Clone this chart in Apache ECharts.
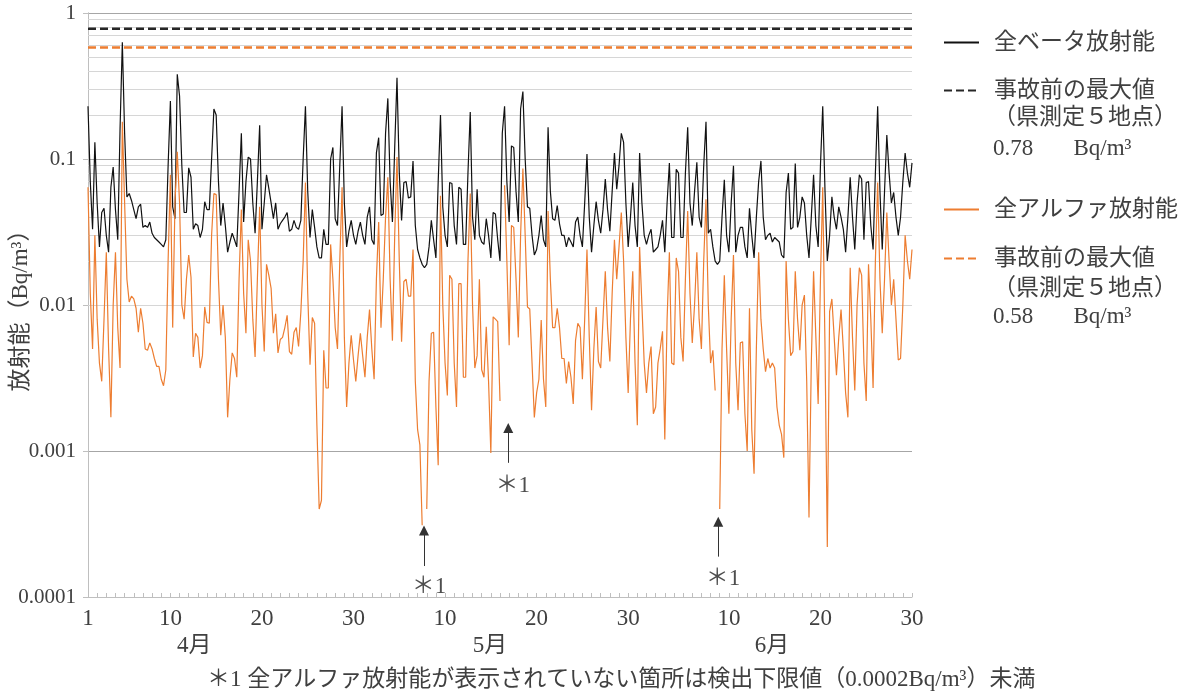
<!DOCTYPE html>
<html><head><meta charset="utf-8">
<script src="https://cdn.jsdelivr.net/npm/echarts@6.0.0/dist/echarts.min.js"></script>
<style>html,body{margin:0;padding:0;background:#fff}#c{width:1185px;height:698px}</style>
</head><body><div id="c"></div><script>
// ---- data (4 samples per day, day index 0 = Apr 1) ----
const PER_DAY = 4;
const betaApr = [0.23,0.07,0.033,0.13,0.05,0.025,0.043,0.046,0.03,0.023,
0.064,0.088,0.045,0.028,0.16,0.63,0.15,0.055,0.058,0.052,
0.045,0.039,0.047,0.049,0.034,0.035,0.034,0.037,0.031,0.029,
0.028,0.027,0.026,0.025,0.028,0.09,0.25,0.047,0.039,0.38,
0.27,0.09,0.043,0.043,0.087,0.075,0.033,0.036,0.035,0.029,
0.033,0.051,0.045,0.045,0.1,0.22,0.2,0.07,0.035,0.05,
0.035,0.023,0.027,0.031,0.028,0.025,0.06,0.15,0.037,0.07,
0.103,0.1,0.05,0.031,0.07,0.17,0.033,0.05,0.078,0.063,
0.05,0.039,0.05,0.033,0.036,0.038,0.04,0.043,0.032,0.033,
0.038,0.034,0.033,0.038,0.1,0.23,0.06,0.029,0.045,0.034,
0.025,0.021,0.021,0.033,0.026,0.026,0.1,0.12,0.039,0.035,
0.09,0.23,0.05,0.025,0.032,0.038,0.03,0.026,0.032,0.037];
const betaMay = [0.03,0.026,0.04,0.047,0.028,0.026,0.11,0.14,0.041,0.042,
0.15,0.26,0.07,0.037,0.12,0.36,0.08,0.038,0.069,0.07,
0.054,0.055,0.097,0.035,0.024,0.021,0.019,0.018,0.019,0.025,
0.038,0.028,0.021,0.07,0.2,0.047,0.03,0.025,0.069,0.068,
0.035,0.026,0.064,0.062,0.026,0.026,0.08,0.21,0.04,0.028,
0.062,0.03,0.027,0.026,0.039,0.03,0.021,0.043,0.042,0.028,
0.02,0.15,0.23,0.07,0.037,0.123,0.12,0.06,0.037,0.22,
0.29,0.1,0.047,0.046,0.03,0.022,0.024,0.03,0.041,0.028,
0.025,0.165,0.06,0.039,0.038,0.048,0.036,0.03,0.03,0.025,
0.029,0.027,0.025,0.037,0.04,0.03,0.025,0.05,0.108,0.04,
0.023,0.035,0.051,0.038,0.031,0.045,0.073,0.045,0.032,0.06,
0.11,0.062,0.09,0.15,0.13,0.05,0.025,0.04,0.069,0.035,
0.025,0.11,0.05,0.03];
const betaJun = [0.026,0.03,0.033,0.023,0.024,0.025,
0.03,0.038,0.023,0.05,0.094,0.029,0.029,0.085,0.08,0.029,
0.029,0.08,0.165,0.05,0.035,0.06,0.095,0.04,0.034,0.09,
0.18,0.031,0.033,0.025,0.02,0.019,0.02,0.04,0.072,0.03,
0.023,0.05,0.09,0.023,0.03,0.034,0.034,0.025,0.021,0.046,
0.03,0.021,0.04,0.07,0.097,0.04,0.028,0.03,0.031,0.027,
0.029,0.028,0.027,0.022,0.021,0.059,0.08,0.033,0.034,0.093,
0.034,0.04,0.055,0.05,0.03,0.021,0.04,0.078,0.035,0.025,
0.09,0.23,0.06,0.02,0.03,0.055,0.04,0.033,0.047,0.04,
0.033,0.023,0.04,0.075,0.04,0.024,0.05,0.078,0.073,0.028,
0.069,0.07,0.035,0.024,0.08,0.23,0.06,0.024,0.06,0.146,
0.08,0.05,0.059,0.04,0.03,0.04,0.07,0.11,0.08,0.064,0.094];
const alphaApr = [0.064,0.012,0.005,0.03,0.008,0.004,0.003,0.008,0.023,0.005,
0.0017,0.01,0.023,0.007,0.0037,0.18,0.05,0.015,0.0105,0.0115,
0.011,0.0095,0.0065,0.0095,0.0075,0.005,0.0049,0.0055,0.005,0.0043,
0.0038,0.0038,0.0031,0.0028,0.0036,0.02,0.078,0.007,0.05,0.112,
0.05,0.01,0.008,0.015,0.022,0.0155,0.0044,0.0064,0.006,0.0037,
0.0045,0.0097,0.0076,0.0075,0.03,0.058,0.057,0.015,0.0062,0.01,
0.006,0.0017,0.0031,0.0047,0.0043,0.0032,0.015,0.045,0.012,0.0064,
0.028,0.02,0.008,0.0044,0.015,0.047,0.01,0.0048,0.019,0.016,
0.013,0.0064,0.0087,0.0047,0.0058,0.006,0.007,0.0085,0.0048,0.0046,
0.0065,0.007,0.0052,0.009,0.02,0.069,0.012,0.0039,0.0082,0.0075,
0.0015,0.0004,0.00046,0.0049,0.0027,0.0027,0.026,0.015,0.007,0.005,
0.02,0.064,0.006,0.002,0.004,0.0062,0.0042,0.003,0.0045,0.0064];
const alphaMay = [0.0045,0.0032,0.006,0.0093,0.005,0.0031,0.015,0.037,0.007,0.015,
0.04,0.075,0.015,0.0057,0.03,0.103,0.02,0.0056,0.0145,0.015,
0.0115,0.0115,0.024,0.003,0.0014,0.0011,0.00031,null,0.0004,0.003,
0.0064,0.0065,0.002,0.0008,0.056,0.01,0.004,0.0024,0.016,0.015,
0.004,0.002,0.014,0.014,0.0032,0.0032,0.02,0.058,0.01,0.0037,
0.0045,0.015,0.0036,0.0032,0.0071,0.003,0.00097,0.0083,0.008,0.0077,
0.0022,null,0.066,0.02,0.0053,0.035,0.034,0.015,0.006,0.03,
0.086,0.03,0.0097,0.0094,0.004,0.0017,0.0025,0.0031,0.0079,0.0031,
0.002,0.044,0.015,0.007,0.007,0.0095,0.007,0.0043,0.0043,0.0029,
0.0041,0.0032,0.0021,0.0057,0.0075,0.007,0.0031,0.008,0.024,0.006,
0.0019,0.005,0.0097,0.0041,0.0037,0.008,0.017,0.007,0.0041,0.012,
0.028,0.015,0.025,0.043,0.02,0.006,0.0025,0.008,0.017,0.004,
0.0015,0.025,0.01,0.004];
const alphaJun = [0.0025,0.004,0.0052,0.0018,0.002,0.004,
0.005,0.0066,0.0012,0.008,0.023,0.004,0.0039,0.021,0.017,0.006,
0.0041,0.015,0.044,0.012,0.0055,0.01,0.023,0.008,0.005,0.02,
0.053,0.01,0.004,0.0049,0.0026,null,0.0004,0.005,0.016,0.005,
0.0018,0.008,0.022,0.004,0.0019,0.0055,0.0056,0.0018,0.001,0.0095,
0.0014,0.0007,0.005,0.023,0.008,0.005,0.0035,0.0043,0.0037,0.004,
0.0037,0.002,0.0015,0.0013,0.0009,0.02,0.008,0.0045,0.0048,0.017,
0.008,0.0049,0.01,0.0117,0.003,0.00035,0.004,0.017,0.006,0.0021,
0.015,0.064,0.005,0.00022,0.009,0.011,0.006,0.0033,0.006,0.0093,
0.005,0.0025,0.0017,0.018,0.006,0.0026,0.01,0.018,0.016,0.004,
0.0022,0.019,0.008,0.0027,0.02,0.069,0.015,0.0064,0.015,0.043,
0.02,0.01,0.015,0.008,0.0042,0.0043,0.01,0.03,0.02,0.015,0.024];
const betaPreMax = 0.78;
const alphaPreMax = 0.58;
const xTickDays = [0,9,19,29,39,49,59,70,80,90];
const xTickLabels = ['1','10','20','30','10','20','30','10','20','30'];
const monthPos = [11.6,43.9,74.7];
const monthLabels = ['4月','5月','6月'];
const yTickVals = [0.0001,0.001,0.01,0.1,1];
const yTickLabels = ['0.0001','0.001','0.01','0.1','1'];
const noteArrowX = [36.7,45.9,68.84];
const noteArrowTip = [2.85e-4,1.44e-3,3.28e-4];
const noteArrowTail = [1.63e-4,8.3e-4,1.89e-4];
const noteLabelPos = [[37.25,1.17e-4],[46.4,5.76e-4],[69.35,1.33e-4]];

// ---- chart ----
const FONT = "'Liberation Serif','Noto Sans CJK JP',serif";
const TXT = '#404040';
const FS = 23;
const toPts = arr => arr.map((v,i)=>[i/PER_DAY, v]);
const beta = toPts(betaApr.concat(betaMay, betaJun));
const alpha = toPts(alphaApr.concat(alphaMay, alphaJun));
const minorVals = [];
for (let e = -4; e < 0; e++) for (let m = 2; m <= 9; m++) minorVals.push(m * Math.pow(10, e));

const legendBase = {orient:'vertical', left:943, padding:0, itemWidth:35, itemHeight:14, selectedMode:false,
  itemStyle:{opacity:0, borderWidth:0},
  textStyle:{fontSize:FS, fontFamily:FONT, color:TXT, padding:[0,0,0,10], lineHeight:22},
  formatter: n => n.replace(/\(.\)$/, '')};

const chart = echarts.init(document.getElementById('c'), null, {renderer:'canvas'});
chart.setOption({
  animation:false,
  backgroundColor:'#fff',
  grid:{left:88, right:273, top:13, bottom:101, containLabel:false, outerBoundsMode:'none'},
  xAxis:[
    {type:'value', min:0, max:90, interval:1,
     axisLine:{show:true, lineStyle:{color:'#bfbfbf'}},
     axisTick:{show:true, inside:true, length:4, lineStyle:{color:'#bfbfbf'}},
     splitLine:{show:false},
     axisLabel:{customValues:xTickDays, fontSize:FS, fontFamily:FONT, color:TXT, margin:10,
       formatter: v => { const k = xTickDays.indexOf(Math.round(v)); return k>=0 ? xTickLabels[k] : ''; }}},
    {type:'value', min:0, max:90, position:'bottom', offset:25,
     axisLine:{show:false}, axisTick:{show:false}, splitLine:{show:false},
     axisLabel:{customValues:monthPos, fontSize:FS, fontFamily:FONT, color:TXT, margin:12,
       formatter: v => { let k = 0; monthPos.forEach((p,j)=>{ if (Math.abs(p-v) < Math.abs(monthPos[k]-v)) k = j; }); return monthLabels[k]; }}}
  ],
  yAxis:[
    {type:'log', logBase:10, min:0.0001, max:1,
     axisLine:{show:true, lineStyle:{color:'#bfbfbf'}},
     axisTick:{show:true, length:5, lineStyle:{color:'#bfbfbf'}},
     splitLine:{show:true, lineStyle:{color:'#a6a6a6'}},
     axisLabel:{fontSize:21, fontFamily:FONT, color:TXT, margin:12,
       formatter: v => { for (let k=0;k<yTickVals.length;k++) if (Math.abs(Math.log10(v)-Math.log10(yTickVals[k]))<0.01) return yTickLabels[k]; return ''; }},
     name:'放射能（Bq/m³）', nameLocation:'middle', nameRotate:90, nameGap:56, nameMoveOverlap:false,
     nameTextStyle:{fontSize:FS, fontFamily:FONT, color:TXT}},
    {type:'log', logBase:10, min:0.0001, max:1, position:'right',
     axisLine:{show:true, lineStyle:{color:'#bfbfbf'}}, axisTick:{show:false}, axisLabel:{show:false}, splitLine:{show:false}}
  ],
  legend:[
    Object.assign({}, legendBase, {top:31, data:['全ベータ放射能'], lineStyle:{width:2}}),
    Object.assign({}, legendBase, {top:79, data:['事故前の最大値(β)']}),
    Object.assign({}, legendBase, {top:198, data:['全アルファ放射能'], lineStyle:{width:2}}),
    Object.assign({}, legendBase, {top:247, data:['事故前の最大値(α)']})
  ],
  series:[
    {type:'line', name:'minor-grid', data:[], silent:true,
     markLine:{silent:true, z:1, symbol:['none','none'], label:{show:false}, emphasis:{disabled:true},
       lineStyle:{color:'#d6d6d6', type:'solid', width:1}, data:minorVals.map(v=>({yAxis:v}))}},
    {type:'line', name:'全ベータ放射能', data:beta, showSymbol:false, symbol:'none',
     lineStyle:{color:'#111', width:1.2}, itemStyle:{color:'#111'}},
    {type:'line', name:'事故前の最大値(β)', data:[[0,betaPreMax],[90,betaPreMax]], showSymbol:false, symbol:'none',
     lineStyle:{color:'#262626', width:2.5, type:[8,4]}, itemStyle:{color:'#262626'}},
    {type:'line', name:'全アルファ放射能', data:alpha, showSymbol:false, symbol:'none', connectNulls:false,
     lineStyle:{color:'#ED7D31', width:1.2}, itemStyle:{color:'#ED7D31'}},
    {type:'line', name:'事故前の最大値(α)', data:[[0,alphaPreMax],[90,alphaPreMax]], showSymbol:false, symbol:'none',
     lineStyle:{color:'#ED7D31', width:2.5, type:[8,4]}, itemStyle:{color:'#ED7D31'}},
    {type:'scatter', name:'note', data:noteLabelPos, symbolSize:0, silent:true,
     label:{show:true, position:'inside', formatter:'＊1', fontSize:FS, fontFamily:FONT, color:'#222'},
     markLine:{silent:true, symbol:['none','triangle'], symbolSize:10, label:{show:false},
       lineStyle:{color:'#333', width:1, type:'solid'}, itemStyle:{color:'#333'},
       data: noteArrowX.map((x,k)=>[{coord:[x,noteArrowTail[k]]},{coord:[x,noteArrowTip[k]]}])}}
  ],
  graphic:[
    {type:'text', x:993, y:117.5, style:{text:'（県測定５地点）', font:FS+'px '+FONT, fill:TXT, verticalAlign:'middle'}},
    {type:'text', x:993, y:149, style:{text:'0.78　   Bq/m³', font:FS+'px '+FONT, fill:TXT, verticalAlign:'middle'}},
    {type:'text', x:993, y:289, style:{text:'（県測定５地点）', font:FS+'px '+FONT, fill:TXT, verticalAlign:'middle'}},
    {type:'text', x:993, y:317, style:{text:'0.58　   Bq/m³', font:FS+'px '+FONT, fill:TXT, verticalAlign:'middle'}},
    {type:'text', x:207, y:680, style:{text:'＊1 全アルファ放射能が表示されていない箇所は検出下限値（0.0002Bq/m³）未満', font:FS+'px '+FONT, fill:TXT, verticalAlign:'middle'}}
  ]
});
</script></body></html>
